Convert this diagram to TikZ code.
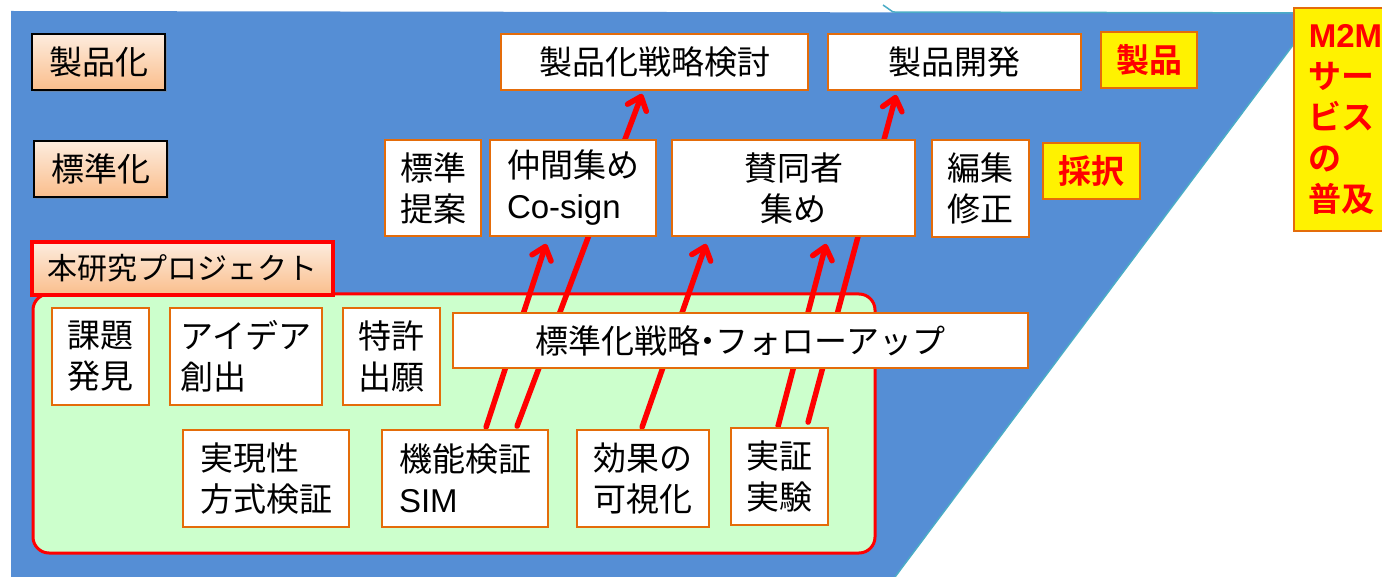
\documentclass[tikz,border=0pt]{standalone}
\usepackage{fontspec}
\setmainfont{Noto Sans CJK JP}[BoldFont={Noto Sans CJK JP Bold}]
\newfontfamily\latinsans{Liberation Sans}
\usetikzlibrary{arrows.meta,shadows,calc}
\definecolor{bgblue}{RGB}{85,142,213}
\definecolor{edgeteal}{RGB}{75,172,198}
\definecolor{boxorange}{RGB}{228,108,10}
\definecolor{peachtop}{RGB}{253,236,222}
\definecolor{peachbot}{RGB}{250,190,140}
\definecolor{greenfill}{RGB}{204,255,204}
\definecolor{redline}{RGB}{255,0,0}
\pgfdeclarelayer{back}
\pgfdeclarelayer{mid}
\pgfsetlayers{back,mid,main}
\begin{document}
\begin{tikzpicture}[x=1pt,y=-1pt,
  wbox/.style={draw=boxorange, line width=1.8pt, fill=white, inner sep=0pt,
    font=\fontsize{33}{41}\selectfont, align=left},
  cbox/.style={wbox, align=center},
  peach/.style={draw=black, line width=1.6pt, top color=peachtop, bottom color=peachbot,
    inner sep=0pt, font=\fontsize{33}{41}\selectfont,
    drop shadow={shadow xshift=2pt, shadow yshift=-2pt, opacity=0.45}},
  ybox/.style={draw=boxorange, line width=1.6pt, fill=yellow, text=redline, inner sep=0pt,
    font=\fontsize{33}{41}\selectfont\bfseries},
  redarrow/.style={draw=redline, line width=5.5pt, line cap=round,
    -{Straight Barb[length=12pt,width=20pt,round]}}
]
\useasboundingbox (0,0) rectangle (1382,577);

% level labels
\node[peach, minimum width=133, minimum height=56] (lprod) at (98.5,62) {製品化};
\node[peach, minimum width=133, minimum height=56] (lstd) at (100.5,169) {標準化};
\node[peach, draw=redline, line width=3.5pt, minimum width=301, minimum height=53,
  font=\fontsize{30}{36}\selectfont] (lproj) at (182.5,268.5) {本研究プロジェクト};

% project boxes
\node[wbox, minimum width=97, minimum height=97] (kadai) at (100.5,356.5) {課題\\発見};
\node[wbox, minimum width=152, minimum height=97] (idea) at (246,356.5) {アイデア\\創出};
\node[wbox, minimum width=97, minimum height=97] (tokkyo) at (391.5,356.5) {特許\\出願};
\node[cbox, minimum width=575, minimum height=55] (follow) at (740.5,340.5) {標準化戦略\kern-9pt・\kern-9pt フォローアップ};
\node[wbox, minimum width=166, minimum height=97] (jitsugen) at (266,478.5) {実現性\\方式検証};
\node[wbox, minimum width=166, minimum height=97] (sim) at (465,478.5) {機能検証\\{\latinsans SIM}};
\node[wbox, minimum width=132, minimum height=97] (kouka) at (643,478.5) {効果の\\可視化};
\node[wbox, minimum width=97, minimum height=97] (jissho) at (779.5,476.5) {実証\\実験};

% standardisation boxes
\node[wbox, minimum width=96, minimum height=96] (teian) at (433,188) {標準\\提案};
\node[wbox, minimum width=166, minimum height=96] (cosign) at (573,188) {仲間集め\\{\latinsans Co-sign}};
\node[cbox, minimum width=243, minimum height=96] (sando) at (793.5,188) {賛同者\\集め};
\node[wbox, minimum width=97, minimum height=97] (henshu) at (980.5,188.5) {編集\\修正};
\node[ybox, minimum width=97, minimum height=56] (saitaku) at (1091.5,171) {採択};

% product boxes
\node[cbox, minimum width=307, minimum height=56] (strat) at (654.5,62) {製品化戦略検討};
\node[cbox, minimum width=253, minimum height=56] (kaihatsu) at (954.5,62) {製品開発};
\node[ybox, minimum width=96, minimum height=56] (seihin) at (1149,60) {製品};
\node[ybox, anchor=north west, minimum width=99, minimum height=223, text width=84,
  inner xsep=15pt, align=left] (m2m) at (1293,7) {{\latinsans\bfseries M2M}\\サー\\ビス\\の\\普及};

\begin{pgfonlayer}{back}
  \fill[bgblue] (11,11) -- (1317,13) -- (895,577) -- (11,577) -- cycle;
  \draw[edgeteal, line width=1.5pt] (883,5) -- (893,12) -- (1317,13) -- (895,577);
  \draw[draw=redline, line width=3pt, fill=greenfill, rounded corners=16pt]
    (33,294) rectangle (875,553);
\end{pgfonlayer}

\begin{pgfonlayer}{mid}
  \draw[redarrow] ($(sim.north west)+(105,-2)$) -- ($(cosign.south west)+(57,7)$);
  \draw[redarrow] ($(sim.north west)+(136,-3)$) -- ($(strat.south west)+(142,3)$);
  \draw[redarrow] ($(kouka.north west)+(66,-2)$) -- ($(sando.south west)+(35,7)$);
  \draw[redarrow] ($(jissho.north west)+(48,-1)$) -- ($(sando.south west)+(155,7)$);
  \draw[redarrow] ($(jissho.north west)+(78,-5)$) -- ($(kaihatsu.south west)+(69,4)$);
\end{pgfonlayer}
\end{tikzpicture}
\end{document}
